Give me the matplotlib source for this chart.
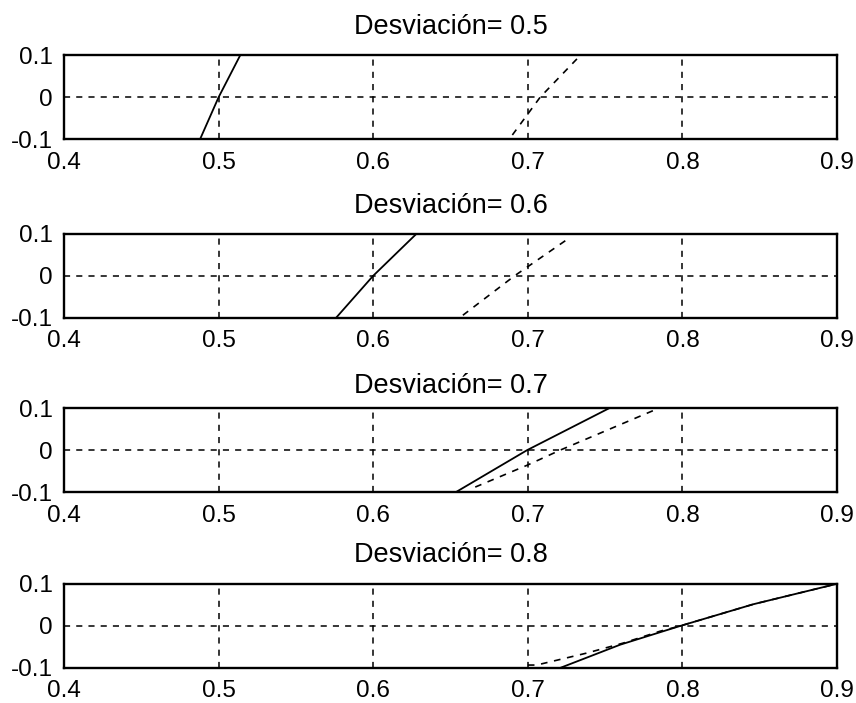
import matplotlib.pyplot as plt

plt.rcParams['font.family'] = ['Liberation Sans', 'DejaVu Sans']

# valores
desviaciones = [0.5, 0.6, 0.7, 0.8]

x_solida = [[0.488, 0.500, 0.514],
            [0.576, 0.600, 0.628],
            [0.6535, 0.6996, 0.7528],
            [0.7208, 0.7597, 0.7985, 0.8459, 0.8995]]
y_solida = [[-0.1, 0.0, 0.1],
            [-0.1, 0.0, 0.1],
            [-0.1, 0.0, 0.1],
            [-0.1, -0.0446, 0.0, 0.0518, 0.1]]

x_discont = [[0.690, 0.708, 0.732],
             [0.658, 0.6915, 0.7245],
             [0.666, 0.6996, 0.721, 0.783],
             [0.700, 0.7057, 0.738, 0.7618, 0.7855, 0.7985, 0.8459, 0.8995]]
y_discont = [[-0.09, 0.0, 0.092],
             [-0.094, 0.0, 0.084],
             [-0.088, -0.036, 0.0, 0.097],
             [-0.093, -0.093, -0.0646, -0.0406, -0.0125, 0.0, 0.0518, 0.1]]

xticks = [0.4, 0.5, 0.6, 0.7, 0.8, 0.9]
xtick_labels = ['0.4', '0.5', '0.6', '0.7', '0.8', '0.9']
yticks = [-0.1, 0, 0.1]
ytick_labels = ['-0.1', '0', '0.1']

fig = plt.figure(figsize=(8.56, 7.03), dpi=100)
bottoms = [0.802, 0.548, 0.300, 0.0498]
title_pads = [15, 15, 11, 16]

for i in range(4):
    ax = fig.add_axes([0.0748, bottoms[i], 0.903, 0.1195])
    ax.plot(x_solida[i], y_solida[i], color='black', linewidth=1.3)
    ax.plot(x_discont[i], y_discont[i], color='black', linewidth=1.2,
            linestyle=(0, (4, 4)))
    ax.set_xlim(0.4, 0.9)
    ax.set_ylim(-0.1, 0.1)
    ax.set_xticks(xticks)
    ax.set_xticklabels(xtick_labels)
    ax.set_yticks(yticks)
    ax.set_yticklabels(ytick_labels)
    ax.grid(True, color='black', linestyle=(0, (4, 4)), linewidth=1.1)
    ax.tick_params(axis='both', length=0, labelsize=17.5)
    ax.tick_params(axis='x', pad=9)
    ax.tick_params(axis='y', pad=8)
    for s in ax.spines.values():
        s.set_linewidth(1.7)
    ax.set_title('Desviación= ' + str(desviaciones[i]), fontsize=19.5,
                 pad=title_pads[i])

plt.savefig('out.png', dpi=100)
